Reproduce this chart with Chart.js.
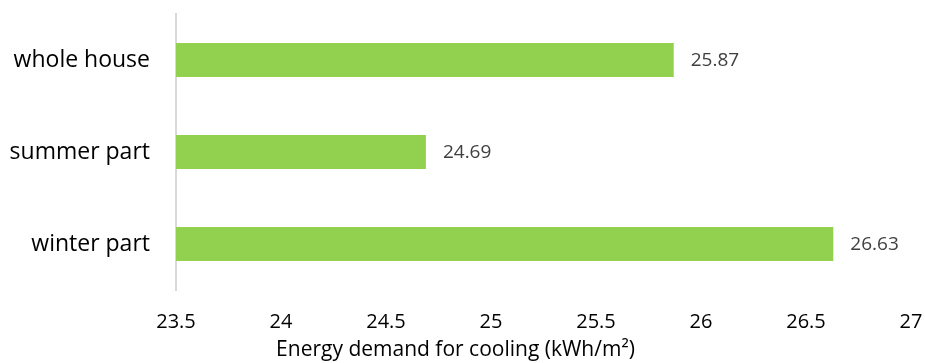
<!DOCTYPE html>
<html>
<head>
<meta charset="utf-8">
<script src="https://cdn.jsdelivr.net/npm/chart.js@4.4.0/dist/chart.umd.min.js"></script>
<style>
  html, body { margin: 0; padding: 0; background: #ffffff; }
  #wrap { width: 925px; height: 363px; }
</style>
</head>
<body>
<div id="wrap"><canvas id="chart" width="925" height="363"></canvas></div>
<script>
// Cooling energy demand per zone of the house
const categories = ['whole house', 'summer part', 'winter part'];
const coolingDemand = [25.87, 24.69, 26.63];
const axisMin = 23.5;
const axisMax = 27;
const axisStep = 0.5;
const axisTitle = 'Energy demand for cooling (kWh/m\u00B2)';

const FONT = "'Open Sans', 'DejaVu Sans', sans-serif";

// Writes each bar's value just past its end
const valueLabels = {
  id: 'valueLabels',
  afterDatasetsDraw(chart) {
    const ctx = chart.ctx;
    const meta = chart.getDatasetMeta(0);
    ctx.save();
    ctx.font = '19px ' + FONT;
    ctx.fillStyle = '#404040';
    ctx.textAlign = 'left';
    ctx.textBaseline = 'middle';
    meta.data.forEach((bar, i) => {
      ctx.fillText(coolingDemand[i].toFixed(2), bar.x + 17, bar.y + 1);
    });
    ctx.restore();
  }
};

// Lets the layout padding alone decide the plot area edges
function noScalePadding(scale) {
  scale.paddingLeft = 0;
  scale.paddingRight = 0;
  scale.paddingTop = 0;
  scale.paddingBottom = 0;
}

new Chart(document.getElementById('chart'), {
  type: 'bar',
  data: {
    labels: categories,
    datasets: [{
      data: coolingDemand,
      backgroundColor: '#92d050',
      borderWidth: 0,
      categoryPercentage: 1,
      barPercentage: 0.37,
      base: axisMin
    }]
  },
  options: {
    indexAxis: 'y',
    responsive: false,
    animation: false,
    layout: { padding: { top: 14, right: 14, left: 0, bottom: 0 } },
    plugins: {
      legend: { display: false },
      tooltip: { enabled: false },
      title: {
        display: true,
        position: 'bottom',
        text: axisTitle,
        color: '#000000',
        font: { family: FONT, size: 21, weight: 'normal', lineHeight: 1.2 },
        padding: { top: 0, bottom: 0 }
      }
    },
    scales: {
      x: {
        min: axisMin,
        max: axisMax,
        grid: { display: false, drawTicks: false },
        border: { display: false },
        ticks: {
          stepSize: axisStep,
          color: '#000000',
          font: { family: FONT, size: 20 },
          padding: 20,
          maxRotation: 0,
          autoSkip: false,
          callback: (v) => String(v)
        },
        afterFit(scale) { scale.height = 73 - 25.2; noScalePadding(scale); }
      },
      y: {
        grid: { display: false, drawTicks: false },
        border: { display: true, color: '#d9d9d9', width: 2 },
        ticks: {
          color: '#000000',
          font: { family: FONT, size: 23 },
          padding: 26
        },
        afterFit(scale) { scale.width = 176; noScalePadding(scale); }
      }
    }
  },
  plugins: [valueLabels]
});
</script>
</body>
</html>
